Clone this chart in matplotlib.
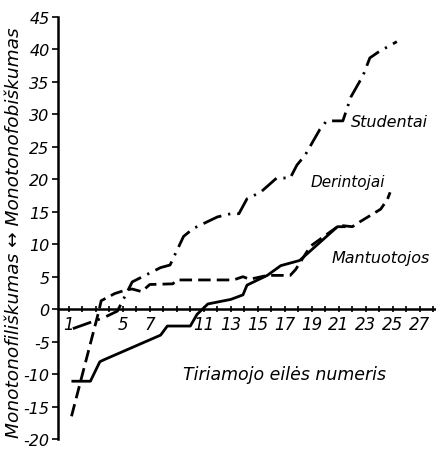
import matplotlib
matplotlib.use("Agg")
import matplotlib.pyplot as plt
from matplotlib.ticker import MultipleLocator

# Studentai (dash-dot)
stud_x = [1.3, 3.6, 4.6, 5.7, 7.8, 8.5, 9.5, 10.2, 12.0, 13.0, 13.6, 14.2, 15.2,
          16.4, 17.4, 17.9, 18.5, 19.6, 20.1, 21.3, 21.9, 22.8, 23.3, 24.0, 25.3]
stud_y = [-3.0, -1.3, -0.3, 4.2, 6.4, 6.8, 11.2, 12.4, 14.2, 14.7, 14.7, 17.0, 18.0,
          20.2, 20.2, 22.2, 23.7, 27.7, 29.0, 29.0, 32.7, 36.0, 38.7, 39.7, 41.2]

# Derintojai (dashed)
der_x = [1.2, 3.2, 3.4, 4.4, 5.3, 5.7, 6.4, 7.0, 8.7, 9.0, 13.2, 13.9, 14.4, 15.7,
         17.4, 17.8, 18.9, 19.9, 20.7, 21.1, 22.0, 22.6, 24.1, 24.6, 24.8]
der_y = [-16.5, -0.5, 1.3, 2.4, 3.0, 3.1, 2.7, 3.8, 3.9, 4.5, 4.5, 5.0, 4.6, 5.2,
         5.2, 6.1, 9.7, 11.2, 12.4, 12.9, 12.7, 13.5, 15.4, 16.9, 18.0]

# Mantuotojos (solid)
man_x = [1.3, 2.6, 3.3, 3.6, 7.8, 8.3, 10.0, 10.5, 11.3, 13.0, 13.9, 14.2, 15.7,
         16.7, 18.1, 20.9, 21.4]
man_y = [-11.1, -11.1, -8.1, -7.8, -4.0, -2.6, -2.6, -0.8, 0.8, 1.5, 2.2, 3.7, 5.2,
         6.7, 7.5, 12.7, 12.7]

x_ticks = [1, 5, 7, 11, 13, 15, 17, 19, 21, 23, 25, 27]
y_ticks = list(range(-20, 50, 5))

narrow = ['Liberation Sans Narrow', 'DejaVu Sans']
plt.rcParams['font.family'] = narrow
plt.rcParams['font.style'] = 'italic'

fig = plt.figure(figsize=(4.36, 4.52), dpi=100)
ax = fig.add_axes([58 / 436, 12 / 452, 378 / 436, 422 / 452])

lw = 2.0
ax.plot(stud_x, stud_y, color='black', lw=lw, dashes=(7, 2.5, 0.8, 2.5))
ax.plot(der_x, der_y, color='black', lw=lw, dashes=(4.5, 2.2))
ax.plot(man_x, man_y, color='black', lw=lw)

ax.set_xlim(0.2, 28.2)
ax.set_ylim(-20, 45)

ax.spines['top'].set_visible(False)
ax.spines['right'].set_visible(False)
ax.spines['left'].set_linewidth(1.8)
ax.spines['bottom'].set_position(('data', 0))
ax.spines['bottom'].set_linewidth(1.8)

ax.set_xticks(x_ticks)
ax.set_xticklabels([str(t) for t in x_ticks], fontsize=12)
ax.xaxis.set_minor_locator(MultipleLocator(1))
ax.tick_params(axis='x', which='both', direction='inout', length=4, width=1.2, pad=2)
ax.set_yticks(y_ticks)
ax.set_yticklabels([str(t) for t in y_ticks], fontsize=11.5)
ax.tick_params(axis='y', direction='out', length=4, width=1.2, pad=2)

ax.text(17.0, -10.0, 'Tiriamojo eilės numeris', fontsize=12.5,
        ha='center', va='center')
ax.text(21.9, 28.9, 'Studentai', fontsize=11.5, ha='left', va='center')
ax.text(18.9, 19.6, 'Derintojai', fontsize=11, ha='left', va='center')
ax.text(20.5, 7.9, 'Mantuotojos', fontsize=11.5, ha='left', va='center')

fig.text(14 / 436, 1 - 233 / 452, 'Monotonofiliškumas ↔ Monotonofobiškumas',
         rotation=90, fontsize=13.3, ha='center', va='center')

fig.savefig('out.png', dpi=100)
